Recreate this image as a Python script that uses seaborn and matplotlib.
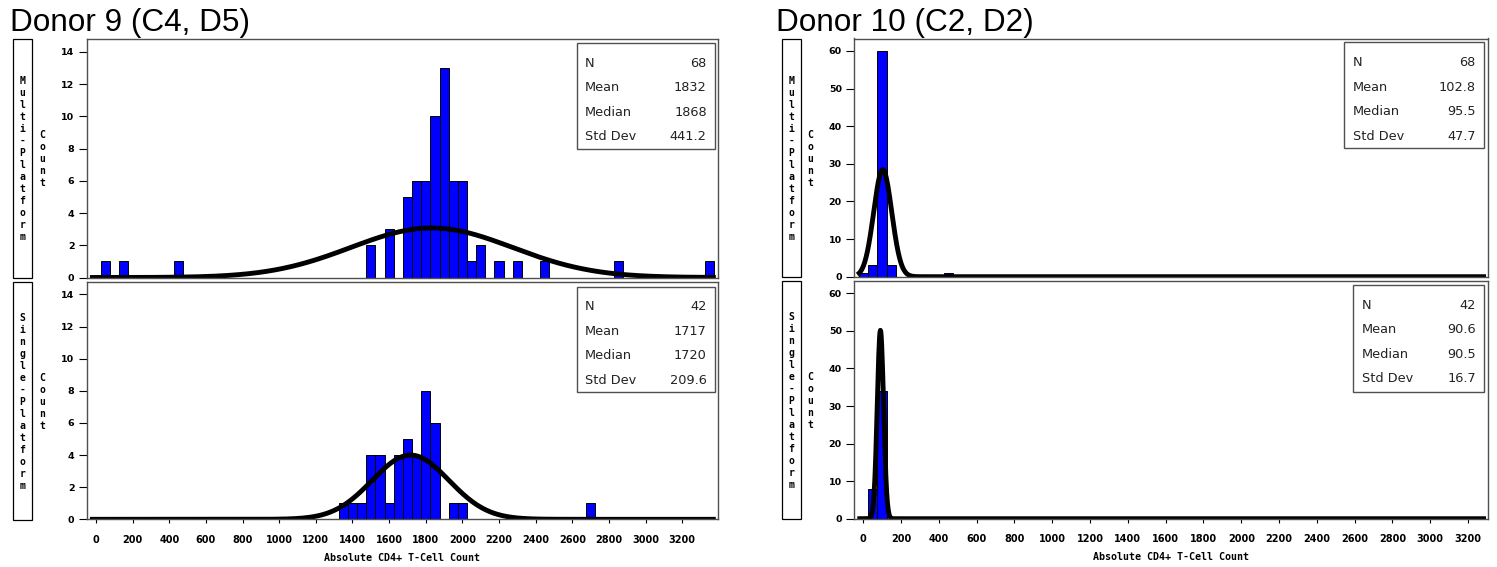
import numpy as np
import pandas as pd
import matplotlib
matplotlib.use("Agg")
import matplotlib.pyplot as plt
import seaborn as sns
from matplotlib.patches import Rectangle

# ---- data: histogram bin midpoints (width 50) and counts ----
BIN_WIDTH = 50

d9_multi_mid = [50, 150, 450, 1500, 1600, 1700, 1750, 1800, 1850, 1900, 1950,
                2000, 2050, 2100, 2200, 2300, 2450, 2850, 3350]
d9_multi_cnt = [1, 1, 1, 2, 3, 5, 6, 6, 10, 13, 6, 6, 1, 2, 1, 1, 1, 1, 1]

d9_single_mid = [1350, 1400, 1450, 1500, 1550, 1600, 1650, 1700, 1750, 1800,
                 1850, 1950, 2000, 2700]
d9_single_cnt = [1, 1, 1, 4, 4, 1, 4, 5, 4, 8, 6, 1, 1, 1]

d10_multi_mid = [0, 50, 100, 150, 450]
d10_multi_cnt = [1, 3, 60, 3, 1]

d10_single_mid = [50, 100]
d10_single_cnt = [8, 34]

# summary statistics: N, mean, median, std dev (as printed)
d9_multi_stats = (68, 1832, 1868, 441.2)
d9_single_stats = (42, 1717, 1720, 209.6)
d10_multi_stats = (68, 102.8, 95.5, 47.7)
d10_single_stats = (42, 90.6, 90.5, 16.7)
stat_names = ["N", "Mean", "Median", "Std Dev"]
stat_text = {
    "d9m": ["68", "1832", "1868", "441.2"],
    "d9s": ["42", "1717", "1720", "209.6"],
    "d10m": ["68", "102.8", "95.5", "47.7"],
    "d10s": ["42", "90.6", "90.5", "16.7"],
}

x_ticks = list(range(0, 3201, 200))
titles = ["Donor 9 (C4, D5)", "Donor 10 (C2, D2)"]
row_labels = ["Multi-Platform", "Single-Platform"]
x_label = "Absolute CD4+ T-Cell Count"

# ---- figure ----
sns.set_theme(style="white")
plt.rcParams["font.family"] = ["DejaVu Sans"]
plt.rcParams["text.color"] = "black"
plt.rcParams["axes.labelcolor"] = "black"
plt.rcParams["xtick.color"] = "black"
plt.rcParams["ytick.color"] = "black"
W, H = 1497, 567
fig = plt.figure(figsize=(W / 100, H / 100), dpi=100)
fig.patch.set_facecolor("white")


def add_ax(x0, y0, x1, y1):
    return fig.add_axes([x0 / W, 1 - y1 / H, (x1 - x0) / W, (y1 - y0) / H])


def fx(px):
    return px / W


def fy(py):
    return 1 - py / H


panels = [
    # (key, mids, counts, stats, axes box px, xlim, ylim, yticks, stat box px, is_bottom)
    ("d9m", d9_multi_mid, d9_multi_cnt, d9_multi_stats, (87, 39, 718, 277.5),
     (-49, 3395), (0, 14.8), range(0, 15, 2), (576.5, 43, 715, 149), False),
    ("d9s", d9_single_mid, d9_single_cnt, d9_single_stats, (87, 282, 718, 519.3),
     (-49, 3395), (0, 14.77), range(0, 15, 2), (576.5, 286.5, 715, 392.3), True),
    ("d10m", d10_multi_mid, d10_multi_cnt, d10_multi_stats, (854.3, 38.5, 1488.3, 276.7),
     (-47.6, 3307), (0, 63.3), range(0, 61, 10), (1344.3, 42.3, 1484, 148.3), False),
    ("d10s", d10_single_mid, d10_single_cnt, d10_single_stats, (854.3, 281, 1488.3, 518.7),
     (-47.6, 3307), (0, 63.3), range(0, 61, 10), (1353.3, 285, 1484, 391.7), True),
]

tick_font = dict(family="DejaVu Sans", weight="bold", color="black")

for key, mids, cnts, st, box, xlim, ylim, yticks, sbox, is_bottom in panels:
    ax = add_ax(*box)
    df = pd.DataFrame({"value": np.asarray(mids, dtype=float),
                       "count": np.asarray(cnts, dtype=float)})
    lo = min(mids) - BIN_WIDTH / 2
    hi = max(mids) + BIN_WIDTH / 2
    sns.histplot(data=df, x="value", weights="count", binwidth=BIN_WIDTH,
                 binrange=(lo, hi), ax=ax,
                 color="#0000ff", edgecolor="black", linewidth=0.7, alpha=1.0)

    # fitted normal curve scaled to counts
    n, mean, _, sd = st
    xs = np.linspace(xlim[0] + 16, xlim[1] - 12, 1500)
    ys = n * BIN_WIDTH * np.exp(-0.5 * ((xs - mean) / sd) ** 2) / (sd * np.sqrt(2 * np.pi))
    sns.lineplot(x=xs, y=ys, ax=ax, color="black", linewidth=3.5,
                 estimator=None, sort=False, solid_capstyle="butt")

    ax.set_xlim(*xlim)
    ax.set_ylim(*ylim)
    ax.set_xlabel("")
    ax.set_ylabel("")
    ax.set_yticks(list(yticks))
    ax.set_yticklabels([str(v) for v in yticks], fontsize=6.8, **tick_font)
    ax.tick_params(axis="y", direction="out", length=6, width=0.8, pad=3,
                   left=True, colors="black")
    if is_bottom:
        ax.set_xticks(x_ticks)
        ax.set_xticklabels([str(v) for v in x_ticks], fontsize=7, **tick_font)
        ax.tick_params(axis="x", direction="out", length=3, width=0.8, pad=8,
                       bottom=True, colors="black")
        ax.set_xlabel(x_label, fontsize=7.2, family="DejaVu Sans Mono",
                      weight="bold", labelpad=6, color="black")
    else:
        ax.set_xticks([])
    for sp in ax.spines.values():
        sp.set_color("#505050")
        sp.set_linewidth(1.0)
    ax.set_facecolor("white")

    # statistics inset box
    bx0, by0, bx1, by1 = sbox
    fig.patches.append(Rectangle((fx(bx0), fy(by1)), (bx1 - bx0) / W, (by1 - by0) / H,
                                 transform=fig.transFigure, fill=False,
                                 edgecolor="#505050", linewidth=1.0, zorder=5))
    row0 = by0 + 20.3
    for i, (nm, val) in enumerate(zip(stat_names, stat_text[key])):
        yy = row0 + i * 24.5
        fig.text(fx(bx0 + 8.5), fy(yy), nm, fontsize=9.3, color="#222222",
                 ha="left", va="center", family="DejaVu Sans")
        fig.text(fx(bx1 - 8.3), fy(yy), val, fontsize=9.3, color="#222222",
                 ha="right", va="center", family="DejaVu Sans")

    # row label box and stacked "Count" label
    col_left = box[0] < 400
    lx0, lx1 = (13, 32) if col_left else (781.7, 800.7)
    cx = 42 if col_left else 810.5
    fig.patches.append(Rectangle((fx(lx0), fy(box[3] + 0.5)), (lx1 - lx0) / W,
                                 (box[3] - box[1] + 0.5) / H,
                                 transform=fig.transFigure, fill=False,
                                 edgecolor="black", linewidth=0.9))
    label = row_labels[1] if is_bottom else row_labels[0]
    ymid = (box[1] + box[3]) / 2 + 1.0
    step = 12.0
    for j, ch in enumerate(label):
        yy = ymid + (j - (len(label) - 1) / 2) * step
        fig.text(fx((lx0 + lx1) / 2), fy(yy), ch, fontsize=7, family="DejaVu Sans Mono",
                 weight="bold", ha="center", va="center", color="black")
    for j, ch in enumerate("Count"):
        yy = ymid + (j - 2) * step
        fig.text(fx(cx), fy(yy), ch, fontsize=7, family="DejaVu Sans Mono",
                 weight="bold", ha="center", va="center", color="black")

# donor titles
fig.text(fx(10), fy(31), titles[0], fontsize=22.7, family="Liberation Sans",
         ha="left", va="baseline", color="black")
fig.text(fx(776), fy(31), titles[1], fontsize=22.7, family="Liberation Sans",
         ha="left", va="baseline", color="black")

fig.savefig("out.png", dpi=100, facecolor="white")
